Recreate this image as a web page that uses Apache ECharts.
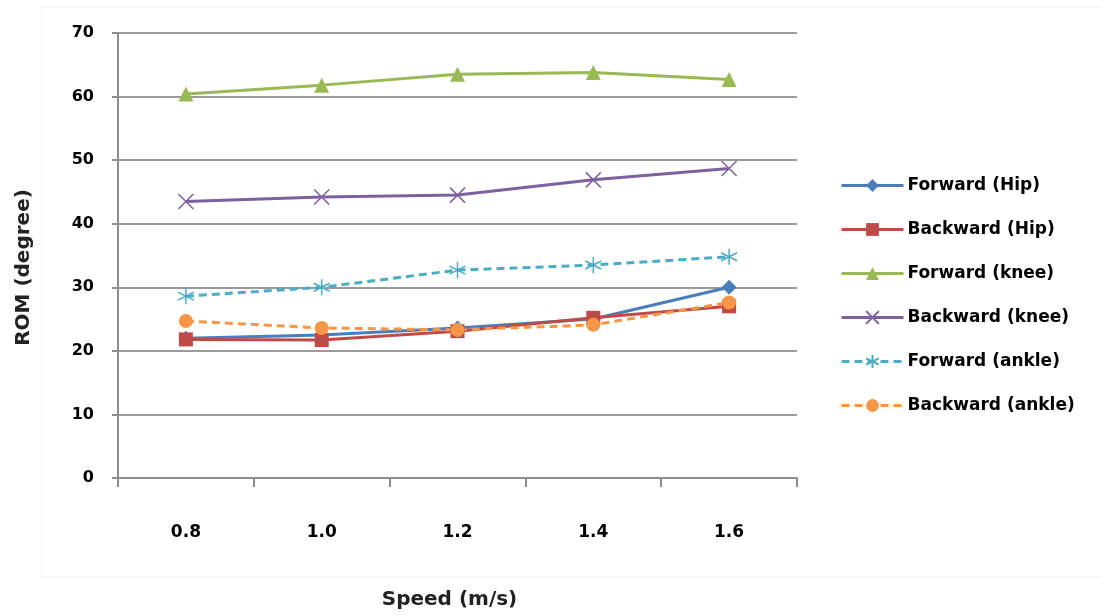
<!DOCTYPE html>
<html>
<head>
<meta charset="utf-8">
<script src="https://cdn.jsdelivr.net/npm/echarts@6/dist/echarts.min.js"></script>
<style>
  html, body { margin: 0; padding: 0; background: #fff; }
  #chart { width: 1102px; height: 616px; }
</style>
</head>
<body>
<div id="chart"></div>
<script>
// Range of motion (degree) by walking speed, per joint and direction
const speeds = ['0.8', '1.0', '1.2', '1.4', '1.6'];
const forwardHip = [22.0, 22.5, 23.6, 25.0, 30.0];
const backwardHip = [21.8, 21.7, 23.1, 25.2, 27.0];
const forwardKnee = [60.4, 61.8, 63.5, 63.8, 62.7];
const backwardKnee = [43.5, 44.2, 44.5, 46.9, 48.7];
const forwardAnkle = [28.6, 30.0, 32.7, 33.5, 34.8];
const backwardAnkle = [24.7, 23.6, 23.3, 24.1, 27.6];

const seriesNames = ['Forward (Hip)', 'Backward (Hip)', 'Forward (knee)', 'Backward (knee)', 'Forward (ankle)', 'Backward (ankle)'];
const colors = ['#4a7ebb', '#be4b48', '#98b954', '#7d60a0', '#4bacc6', '#f79646'];

const crossSymbol = 'path://M0,0L10,10M10,0L0,10';
const starSymbol = 'path://M5,0L5,10M0,2.5L10,7.5M0,7.5L10,2.5';

function lineSeries(name, data, color, symbol, size, dashed, strokeOnly) {
  return {
    name: name,
    type: 'line',
    data: data,
    symbol: symbol,
    symbolSize: size,
    showAllSymbol: true,
    lineStyle: { color: color, width: 3, type: dashed ? [8, 5] : 'solid' },
    itemStyle: strokeOnly
      ? { color: 'rgba(0,0,0,0)', borderColor: color, borderWidth: 1.5 }
      : { color: color, borderColor: color, borderWidth: 0 },
    emphasis: { disabled: true },
    z: 3
  };
}

const chart = echarts.init(document.getElementById('chart'), null, { renderer: 'canvas' });

chart.setOption({
  animation: false,
  backgroundColor: '#ffffff',
  graphic: [{
    type: 'rect',
    shape: { x: 42, y: 7, width: 1100, height: 570 },
    style: { fill: 'none', stroke: '#f2f2f2', lineWidth: 1 },
    silent: true,
    z: 0
  }],
  grid: { left: 118, right: 305, top: 33, bottom: 138 },
  legend: {
    orient: 'vertical',
    left: 835,
    top: 172,
    itemWidth: 62,
    itemHeight: 16,
    itemGap: 27,
    data: seriesNames,
    lineStyle: { width: 3 },
    textStyle: { fontFamily: 'DejaVu Sans', fontWeight: 'bold', fontSize: 17, color: '#000', padding: [0, 0, 0, -1] }
  },
  xAxis: {
    type: 'category',
    data: speeds,
    boundaryGap: true,
    name: 'Speed (m/s)',
    nameLocation: 'middle',
    nameGap: 112,
    nameTextStyle: { fontFamily: 'DejaVu Sans', fontWeight: 'bold', fontSize: 20, color: '#222', padding: [0, 16, 0, 0] },
    axisLine: { lineStyle: { color: '#8e8e8e', width: 2 } },
    axisTick: { show: true, length: 9, lineStyle: { color: '#8e8e8e', width: 2 } },
    axisLabel: { margin: 46, fontFamily: 'DejaVu Sans', fontWeight: 'bold', fontSize: 17, color: '#000' }
  },
  yAxis: {
    type: 'value',
    min: 0,
    max: 70,
    interval: 10,
    name: 'ROM (degree)',
    nameLocation: 'middle',
    nameGap: 84,
    nameTextStyle: { fontFamily: 'DejaVu Sans', fontWeight: 'bold', fontSize: 20, color: '#222', padding: [0, 24, 0, 0] },
    axisLine: { show: true, lineStyle: { color: '#8e8e8e', width: 2 } },
    axisTick: { show: true, length: 6, lineStyle: { color: '#8e8e8e', width: 2 } },
    splitLine: { lineStyle: { color: '#9a9a9a', width: 2 } },
    axisLabel: { margin: 24, fontFamily: 'DejaVu Sans', fontWeight: 'bold', fontSize: 16, color: '#000' }
  },
  series: [
    lineSeries(seriesNames[0], forwardHip, colors[0], 'diamond', 15, false, false),
    lineSeries(seriesNames[1], backwardHip, colors[1], 'rect', 14, false, false),
    lineSeries(seriesNames[2], forwardKnee, colors[2], 'triangle', 15, false, false),
    lineSeries(seriesNames[3], backwardKnee, colors[3], crossSymbol, 15, false, true),
    lineSeries(seriesNames[4], forwardAnkle, colors[4], starSymbol, 16, true, true),
    lineSeries(seriesNames[5], backwardAnkle, colors[5], 'circle', 14, true, false)
  ]
});
</script>
</body>
</html>
